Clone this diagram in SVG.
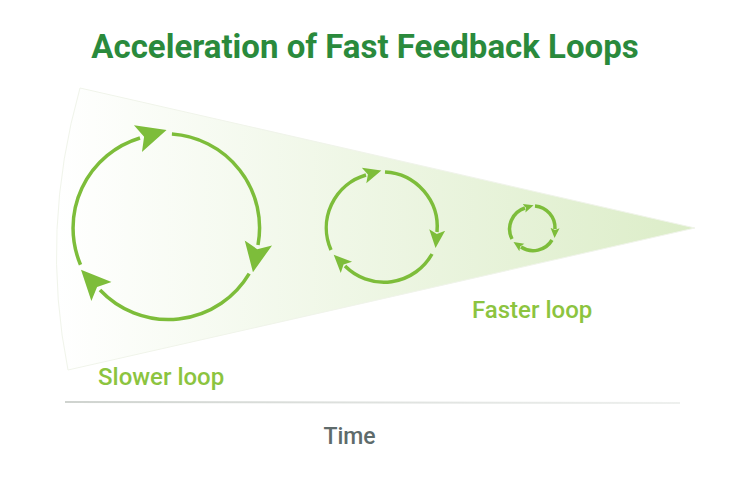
<svg xmlns="http://www.w3.org/2000/svg" width="750" height="477" viewBox="0 0 750 477">
<style>
.loop{fill:none;stroke:#7dbd3a;stroke-width:3.5}
.lbl{font-family:Roboto,"Liberation Sans",sans-serif;font-size:24px;fill:#8cc43f;font-weight:500}
</style>
<defs>
<linearGradient id="cone" x1="0" x2="1" y1="0" y2="0">
<stop offset="0" stop-color="#ffffff"/><stop offset="1" stop-color="#dcedc8"/>
</linearGradient>
<linearGradient id="axis" x1="0" x2="1">
<stop offset="0" stop-color="#cfd3cf"/><stop offset="1" stop-color="#eef0ee"/>
</linearGradient>
<marker id="big" markerUnits="userSpaceOnUse" markerWidth="32" markerHeight="32" refX="2" refY="13" orient="auto" viewBox="0 0 30 26"><path d="M0 0L28 13L0 26L6 13Z" fill="#7dbd3a"/></marker>
<marker id="mid" markerUnits="userSpaceOnUse" markerWidth="20" markerHeight="20" refX="2" refY="8" orient="auto" viewBox="0 0 20 16"><path d="M0 0L18 8L0 16L4 8Z" fill="#7dbd3a"/></marker>
<marker id="sm" markerUnits="userSpaceOnUse" markerWidth="12" markerHeight="12" refX="1" refY="4.5" orient="auto" viewBox="0 0 12 9"><path d="M0 0L10 4.5L0 9L2 4.5Z" fill="#7dbd3a"/></marker>
</defs>
<text x="365" y="58" text-anchor="middle" font-family="Roboto,'Liberation Sans',sans-serif" font-weight="bold" font-size="33" fill="#2a8a3c">Acceleration of Fast Feedback Loops</text>
<g id="cone-shape"><path d="M80 88L695 228L68 370Q40 230 80 88Z" fill="url(#cone)" stroke="#f0f4ea" stroke-width="1"/></g>
<g id="axis-line"><line x1="65" y1="402" x2="680" y2="403" stroke="url(#axis)" stroke-width="2"/></g>
<g id="connectors">
<g id="slow-loop">
<path class="loop" marker-end="url(#big)" d="M80.5 264.7A94 94 0 0 1 140 138"/>
<path class="loop" marker-end="url(#big)" d="M171.9 134.1A94 94 0 0 1 258 245"/>
<path class="loop" marker-end="url(#big)" d="M249.2 273.6A94 94 0 0 1 100 290"/>
</g>
<g id="mid-loop">
<path class="loop" marker-end="url(#mid)" d="M331 250A55 55 0 0 1 366 175"/>
<path class="loop" marker-end="url(#mid)" d="M385 172A55 55 0 0 1 437 232"/>
<path class="loop" marker-end="url(#mid)" d="M432 254A55 55 0 0 1 345 266"/>
</g>
<g id="fast-loop">
<path class="loop" stroke-width="2.5" marker-end="url(#sm)" d="M512 239A22 22 0 0 1 525 208"/>
<path class="loop" stroke-width="2.5" marker-end="url(#sm)" d="M535 206A22 22 0 0 1 555 229"/>
<path class="loop" stroke-width="2.5" marker-end="url(#sm)" d="M552 240A22 22 0 0 1 521 247"/>
</g>
</g>
<g id="slower-label"><text class="lbl" x="98" y="385">Slower loop</text></g>
<g id="faster-label"><text class="lbl" x="472" y="318">Faster loop</text></g>
<g id="time-label"><text x="349.5" y="444" text-anchor="middle" font-family="Roboto,'Liberation Sans',sans-serif" font-size="23" font-weight="500" fill="#5e6b6b">Time</text></g>
</svg>
